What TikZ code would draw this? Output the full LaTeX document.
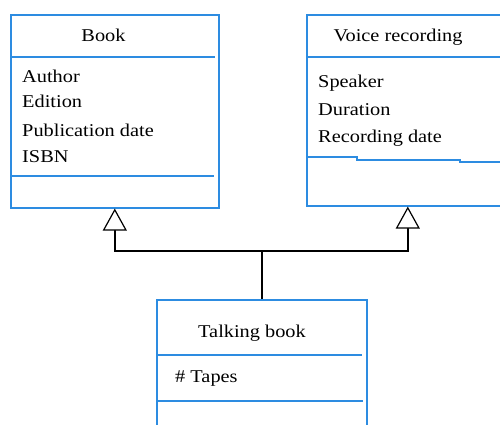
\documentclass[tikz,border=0pt]{standalone}
\usepackage{fontspec}
\setmainfont[FakeStretch=1.13]{Liberation Serif}
\usetikzlibrary{arrows.meta}
\definecolor{umlblue}{RGB}{45,140,225}
\tikzset{
  classbox/.style={draw=umlblue, line width=1.6pt, anchor=north west, inner sep=0pt, rectangle},
  divider/.style={draw=umlblue, line width=1.6pt},
  title/.style={anchor=base, inner sep=0pt, font=\fontsize{18}{20}\selectfont},
  attr/.style={anchor=base west, inner sep=0pt, font=\fontsize{18}{20}\selectfont},
  gen/.style={draw=black, line width=1.5pt, -{Triangle[open, length=22pt, width=24pt, fill=white, line width=1.2pt]}},
  link/.style={draw=black, line width=1.5pt}
}
\begin{document}
\begin{tikzpicture}[x=1pt, y=-1pt]
\clip (0,0) rectangle (500,425);
\fill[white] (0,0) rectangle (500,425);
% class boxes
\node[classbox, minimum width=208pt, minimum height=193pt] (book) at (10,14) {};
\node[classbox, minimum width=202pt, minimum height=191pt] (voice) at (306,14) {};
\node[classbox, minimum width=210pt, minimum height=150pt] (tb) at (156,299) {};
% dividers
\draw[divider] (12,57) -- (215,57);
\draw[divider] (11,176) -- (214,176);
\draw[divider] (307,57) -- (500,57);
\draw[divider] (307,157) -- (357,157) -- (357,160) -- (460,160) -- (460,162) -- (500,162);
\draw[divider] (158,355) -- (362,355);
\draw[divider] (158,401) -- (363,401);
% texts
\node[title] (booktitle) at (103.5,42) {Book};
\node[attr] (a1) at (22,83) {Author};
\node[attr] (a2) at (22,108) {Edition};
\node[attr] (a3) at (22,136) {Publication date};
\node[attr] (a4) at (22,162) {ISBN};
\node[title] (voicetitle) at (398,42) {Voice recording};
\node[attr] (v1) at (318,88) {Speaker};
\node[attr] (v2) at (318,115) {Duration};
\node[attr] (v3) at (318,142) {Recording date};
\node[title] (tbtitle) at (252,337) {Talking book};
\node[attr] (t1) at (175,382) {\# Tapes};
% generalization connectors
\coordinate (jn) at (tb.north |- 0,251);
\draw[link] (tb.north) -- (jn);
\draw[gen] (jn) -| (book.south);
\draw[gen] (jn) -| (voice.south);
\end{tikzpicture}
\end{document}
